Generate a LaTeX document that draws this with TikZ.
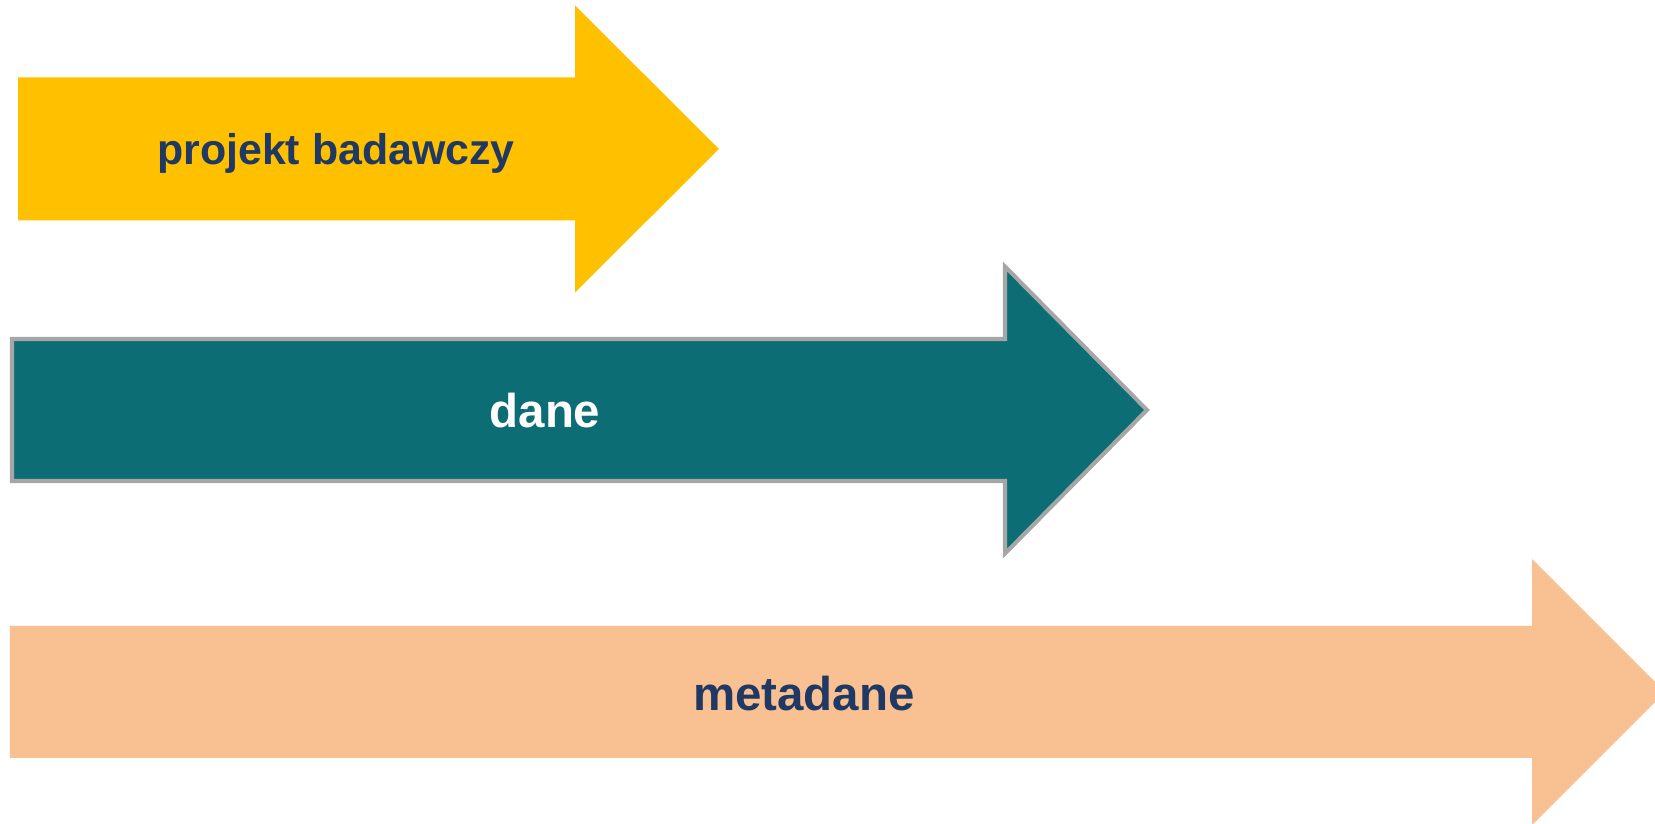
\documentclass[tikz,border=0pt]{standalone}
\usepackage{fontspec}
\setmainfont{Liberation Sans}
\usepackage{xcolor}
\usepackage{tikz}
\usetikzlibrary{positioning,calc}

\definecolor{projyellow}{HTML}{FFC000}
\definecolor{datateal}{HTML}{0D6D74}
\definecolor{metapeach}{HTML}{F9C192}
\definecolor{labelnavy}{HTML}{1F3864}
\definecolor{bordergray}{HTML}{A6A6A6}

\begin{document}
\begin{tikzpicture}[
    label/.style={anchor=base, inner sep=0pt, font=\bfseries\fontsize{27}{32}\selectfont}
]
    \useasboundingbox (0,0) rectangle (33.1,16.48);

    % Project arrow
    \fill[projyellow] (0.36,14.93) -- (11.5,14.93) -- (11.5,16.37) -- (14.38,13.5)
        -- (11.5,10.63) -- (11.5,12.07) -- (0.36,12.07) -- cycle;

    % Data arrow
    \draw[line width=2.3pt, draw=bordergray, fill=datateal, line join=miter]
        (0.24,9.70) -- (20.1,9.70) -- (20.1,11.15) -- (22.94,8.28)
        -- (20.1,5.41) -- (20.1,6.86) -- (0.24,6.86) -- cycle;

    % Metadata arrow
    \fill[metapeach] (0.2,3.96) -- (30.64,3.96) -- (30.64,5.30) -- (33.30,2.64)
        -- (30.64,-0.02) -- (30.64,1.32) -- (0.2,1.32) -- cycle;

    % Labels
    \node[label, text=labelnavy, font=\bfseries\fontsize{24.4}{29}\selectfont] (projekt) at (6.72,13.18) {projekt badawczy};
    \node[label, text=white] (dane) at (10.9,7.92) {dane};
    \node[label, text=labelnavy] (metadane) at (16.08,2.26) {metadane};
\end{tikzpicture}
\end{document}
